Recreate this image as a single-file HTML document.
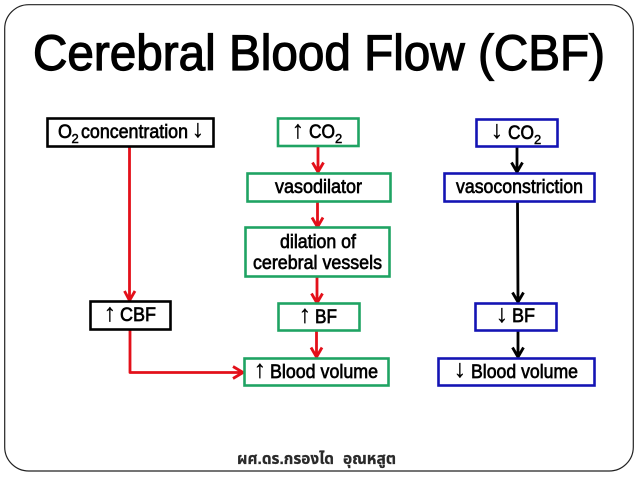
<!DOCTYPE html>
<html><head><meta charset="utf-8">
<style>
html,body{margin:0;padding:0;background:#fff;width:638px;height:479px;overflow:hidden}
svg{display:block}
text{font-family:"Liberation Sans",sans-serif;fill:#000}
.t{font-size:19.5px;stroke:#000;stroke-width:.65px}
.a{font-size:25px;text-anchor:middle;stroke:#000;stroke-width:.3px}
.s{font-size:13px;stroke:#000;stroke-width:.5px}
.h{font-size:16px;font-weight:bold;fill:#2a2a2a;stroke:#2a2a2a;stroke-width:.25px;font-family:"Liberation Sans","Noto Sans Thai","Noto Sans CJK SC",sans-serif}
rect{fill:#fff;stroke-width:2.6}
.k{stroke:#000}.g{stroke:#1fa363}.b{stroke:#1414b4}
.r{stroke:#e3101a;stroke-width:2.8;fill:none;stroke-linejoin:round}
.n{stroke:#000;stroke-width:2.8;fill:none;stroke-linejoin:round}
</style></head><body>
<svg width="638" height="479" viewBox="0 0 638 479" xmlns="http://www.w3.org/2000/svg">
<rect x="4.700" y="4.700" width="628.600" height="466.300" rx="24" ry="24" style="fill:#fff;stroke:#222;stroke-width:1.2"/>
<text x="33" y="70" font-size="50" textLength="572" lengthAdjust="spacingAndGlyphs" stroke="#000" stroke-width="1.2">Cerebral Blood Flow (CBF)</text>

<path class="r" d="M129.500 147V300M124.500 291l5 9.500 5.500-9.500"/>
<path class="r" d="M130 330V372.500H242M233 366.500l10 6-10 6"/>
<path class="r" d="M318 146V171M312.500 162.500l5.500 9.500 5.500-9.500"/>
<path class="r" d="M317.500 202V226M312 217.500l5.500 9.500 5.500-9.500"/>
<path class="r" d="M317 277V302M311.500 293.500l5.500 9.500 5.500-9.500"/>
<path class="r" d="M316.500 331V356M311 347.500l5.500 9.500 5.500-9.500"/>
<path class="n" d="M517 147V171M511.500 162.500l5.500 9.500 5.500-9.500"/>
<path class="n" d="M517.500 202L518 301M512.500 292.500l5.500 9.500 5.500-9.500"/>
<path class="n" d="M518 331V356M512.500 347.500l5.500 9.500 5.500-9.500"/>

<rect class="k" x="47.500" y="118.500" width="166" height="28"/>
<rect class="g" x="278" y="118.500" width="80.500" height="27.500"/>
<rect class="g" x="247.500" y="173.500" width="143" height="28"/>
<rect class="g" x="245.500" y="227.500" width="144" height="49"/>
<rect class="g" x="278.500" y="303.500" width="81" height="27"/>
<rect class="g" x="244.500" y="358.500" width="144" height="27"/>
<rect class="k" x="90.500" y="301.500" width="80" height="28"/>
<rect class="b" x="476.500" y="119.500" width="81" height="27"/>
<rect class="b" x="444.500" y="173.500" width="150" height="28"/>
<rect class="b" x="475.500" y="303.500" width="81" height="27"/>
<rect class="b" x="438.500" y="358.500" width="156" height="27"/>

<text class="t" x="58" y="138" textLength="14" lengthAdjust="spacingAndGlyphs">O</text>
<text class="s" x="71.500" y="143">2</text>
<text class="t" x="81" y="138" textLength="107" lengthAdjust="spacingAndGlyphs">concentration</text>
<text class="a" x="198" y="137">↓</text>

<text class="a" x="298" y="138">↑</text>
<text class="t" x="309" y="138" textLength="26" lengthAdjust="spacingAndGlyphs">CO</text>
<text class="s" x="335" y="143">2</text>

<text class="t" x="275" y="193" textLength="87" lengthAdjust="spacingAndGlyphs">vasodilator</text>
<text class="t" x="280" y="248" textLength="76" lengthAdjust="spacingAndGlyphs">dilation of</text>
<text class="t" x="253" y="269" textLength="129" lengthAdjust="spacingAndGlyphs">cerebral vessels</text>

<text class="a" x="305" y="322.500">↑</text>
<text class="t" x="315" y="323" textLength="22" lengthAdjust="spacingAndGlyphs">BF</text>

<text class="a" x="260" y="377.500">↑</text>
<text class="t" x="270" y="378" textLength="108" lengthAdjust="spacingAndGlyphs">Blood volume</text>

<text class="a" x="110" y="321">↑</text>
<text class="t" x="120" y="321" textLength="36" lengthAdjust="spacingAndGlyphs">CBF</text>

<text class="a" x="497" y="138">↓</text>
<text class="t" x="508" y="139" textLength="26" lengthAdjust="spacingAndGlyphs">CO</text>
<text class="s" x="534" y="144">2</text>

<text class="t" x="456" y="193" textLength="127" lengthAdjust="spacingAndGlyphs">vasoconstriction</text>

<text class="a" x="502" y="322">↓</text>
<text class="t" x="512" y="322" textLength="23" lengthAdjust="spacingAndGlyphs">BF</text>

<text class="a" x="460" y="377">↓</text>
<text class="t" x="471" y="378" textLength="107" lengthAdjust="spacingAndGlyphs">Blood volume</text>

<text class="h" x="237" y="464" textLength="97" lengthAdjust="spacingAndGlyphs">ผศ.ดร.กรองได</text>
<text class="h" x="343" y="464" textLength="53" lengthAdjust="spacingAndGlyphs">อุณหสูต</text>
</svg>
</body></html>
